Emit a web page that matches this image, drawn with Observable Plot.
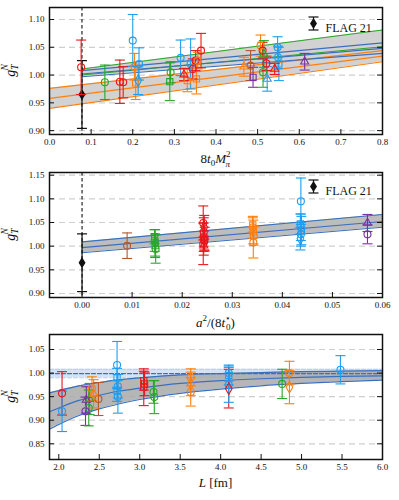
<!DOCTYPE html>
<html><head><meta charset="utf-8">
<script src="https://cdn.jsdelivr.net/npm/d3@7"></script>
<script src="https://cdn.jsdelivr.net/npm/@observablehq/plot@0.6"></script>
<style>
body{margin:0;background:#fff;}
#wrap{position:relative;width:399px;height:500px;overflow:hidden;}
.pn{position:absolute;left:0;}
.pn svg{overflow:visible;display:block;}
</style></head><body><div id="wrap"></div>
<script>
// ---------------- data ----------------
const flagLabel = "FLAG 21";
const flagValue = 0.965, flagErr = 0.061;
const physM2 = 0.078;           // 8 t0 M_pi^2 at the physical point
const betaKeys = ["3.34","3.40","3.46","3.55","3.70","3.85"];
const betaColors = ["#7b2fa6","#1f9ef0","#ff7f0e","#e8161b","#27a827","#b4582b"];
const kindKeys = ["o","s","d","t"];
const kindSymbols = ["circle","square","diamond","triangle"];

// panel 1: [8 t0 M_pi^2, g_T, err, beta, kind]
const p1Points = [
  [0.076,1.014,0.049,"3.55","o"],
  [0.133,0.987,0.031,"3.70","o"],
  [0.169,0.988,0.039,"3.55","o"],
  [0.177,0.987,0.028,"3.55","o"],
  [0.200,1.062,0.047,"3.40","o"],
  [0.204,1.015,0.024,"3.46","o"],
  [0.207,0.986,0.030,"3.46","s"],
  [0.213,0.990,0.025,"3.40","d"],
  [0.215,1.020,0.029,"3.40","o"],
  [0.289,0.988,0.034,"3.70","s"],
  [0.291,1.005,0.019,"3.70","o"],
  [0.315,1.031,0.032,"3.40","o"],
  [0.323,1.001,0.011,"3.55","t"],
  [0.331,0.990,0.020,"3.46","s"],
  [0.339,1.020,0.045,"3.40","o"],
  [0.344,1.011,0.018,"3.55","o"],
  [0.351,1.026,0.018,"3.55","o"],
  [0.353,0.993,0.027,"3.46","s"],
  [0.356,1.026,0.015,"3.46","o"],
  [0.364,1.044,0.031,"3.55","o"],
  [0.467,1.015,0.017,"3.46","t"],
  [0.483,1.017,0.027,"3.85","o"],
  [0.489,0.996,0.018,"3.34","s"],
  [0.507,1.053,0.019,"3.46","o"],
  [0.512,1.044,0.015,"3.55","o"],
  [0.513,1.005,0.027,"3.70","o"],
  [0.515,1.038,0.024,"3.70","t"],
  [0.521,1.021,0.013,"3.55","o"],
  [0.523,0.993,0.022,"3.40","t"],
  [0.541,1.011,0.010,"3.55","t"],
  [0.548,1.050,0.019,"3.40","o"],
  [0.549,1.032,0.020,"3.40","o"],
  [0.551,1.020,0.030,"3.40","s"],
  [0.613,1.024,0.015,"3.34","t"]
];
// panel 1 fit bands (straight lines, read at the ends)
const fitAX = [0.0, 0.8],   fitALo = [0.940,1.024], fitAMid = [0.958,1.034], fitAHi = [0.976,1.044]; // orange
const fitBX = [0.078, 0.8], fitBLo = [0.997,1.039], fitBMid = [1.002,1.048], fitBHi = [1.008,1.058]; // blue
const fitCX = [0.078, 0.8], fitCLo = [1.000,1.051], fitCHi = [1.011,1.081];                         // green

// panel 2: [a^2/(8 t0*), g_T, err, beta, kind]
const p2Points = [
  [0.0090,1.001,0.027,"3.85","o"],
  [0.0145,1.020,0.015,"3.70","s"],
  [0.0145,1.012,0.023,"3.70","o"],
  [0.0146,1.001,0.025,"3.70","s"],
  [0.0147,0.994,0.030,"3.70","o"],
  [0.0146,1.007,0.028,"3.70","d"],
  [0.0242,1.049,0.036,"3.55","o"],
  [0.0244,1.040,0.025,"3.55","d"],
  [0.0243,1.030,0.030,"3.55","o"],
  [0.0243,1.019,0.030,"3.55","s"],
  [0.0244,1.012,0.020,"3.55","s"],
  [0.0245,1.015,0.025,"3.55","s"],
  [0.0242,1.005,0.044,"3.55","o"],
  [0.0243,1.001,0.020,"3.55","t"],
  [0.0341,1.045,0.015,"3.46","s"],
  [0.0341,1.040,0.023,"3.46","o"],
  [0.0342,1.030,0.025,"3.46","s"],
  [0.0343,1.022,0.020,"3.46","o"],
  [0.0342,1.008,0.033,"3.46","o"],
  [0.0437,1.095,0.049,"3.40","o"],
  [0.0436,1.047,0.021,"3.40","s"],
  [0.0437,1.040,0.028,"3.40","o"],
  [0.0438,1.033,0.030,"3.40","s"],
  [0.0437,1.025,0.025,"3.40","o"],
  [0.0436,1.016,0.024,"3.40","d"],
  [0.0570,1.049,0.018,"3.34","t"],
  [0.0570,1.025,0.020,"3.34","o"]
];
// panel 2 fit band (straight line, read at the ends)
const fit2X = [0.0, 0.06], fit2Lo = [0.986,1.040], fit2Mid = [0.997,1.052], fit2Hi = [1.009,1.067];

// panel 3: [L in fm, g_T, err, beta, kind]
const p3Points = [
  [2.04,0.957,0.046,"3.55","o"],
  [2.04,0.919,0.043,"3.40","o"],
  [2.33,0.919,0.030,"3.34","o"],
  [2.34,0.943,0.028,"3.34","t"],
  [2.37,0.926,0.038,"3.70","o"],
  [2.38,0.945,0.033,"3.70","t"],
  [2.41,0.967,0.025,"3.46","o"],
  [2.43,0.956,0.030,"3.46","t"],
  [2.49,0.945,0.035,"3.85","o"],
  [2.72,1.017,0.050,"3.40","o"],
  [2.72,0.990,0.020,"3.40","s"],
  [2.73,0.972,0.025,"3.40","o"],
  [2.72,0.962,0.022,"3.40","s"],
  [2.73,0.950,0.035,"3.40","o"],
  [3.05,0.984,0.020,"3.55","s"],
  [3.06,0.977,0.025,"3.55","s"],
  [3.05,0.970,0.039,"3.55","s"],
  [3.17,0.960,0.024,"3.70","o"],
  [3.18,0.949,0.035,"3.70","o"],
  [3.63,0.991,0.018,"3.46","o"],
  [3.63,0.977,0.025,"3.46","d"],
  [3.63,0.960,0.030,"3.46","o"],
  [4.10,1.000,0.017,"3.40","o"],
  [4.10,0.995,0.020,"3.40","s"],
  [4.10,0.967,0.041,"3.55","d"],
  [4.10,0.975,0.037,"3.40","o"],
  [4.76,0.977,0.031,"3.70","o"],
  [4.85,1.000,0.025,"3.46","o"],
  [4.85,0.970,0.035,"3.46","d"],
  [5.48,1.007,0.030,"3.40","o"]
];
// panel 3 finite-volume fit band
const curveL   = [1.885,2.0,2.25,2.5,2.75,3.0,3.5,4.0,4.5,5.0,5.5,6.0];
const curveLo  = [0.881,0.891,0.910,0.924,0.935,0.944,0.957,0.966,0.973,0.978,0.982,0.985];
const curveMid = [0.918,0.926,0.942,0.953,0.962,0.968,0.978,0.984,0.988,0.991,0.993,0.994];
const curveHi  = [0.958,0.963,0.973,0.980,0.986,0.990,0.996,0.999,1.001,1.003,1.004,1.005];
// infinite-volume result
const infLo = 0.990, infMid = 0.999, infHi = 1.008;

// ticks
const x1Ticks = [0,0.1,0.2,0.3,0.4,0.5,0.6,0.7,0.8];
const y1Ticks = [0.90,0.95,1.00,1.05,1.10];
const x2Ticks = [0,0.01,0.02,0.03,0.04,0.05,0.06];
const y2Ticks = [0.90,0.95,1.00,1.05,1.10,1.15];
const x3Ticks = [2,2.5,3,3.5,4,4.5,5,5.5,6];
const y3Ticks = [0.85,0.90,0.95,1.00,1.05];

// ---------------- helpers ----------------
const colorOf = k => betaColors[betaKeys.indexOf(k)];
const hcap = {draw(ctx){ctx.moveTo(-5,0);ctx.lineTo(5,0);}};
const vbar = {draw(ctx){ctx.moveTo(0,-6.5);ctx.lineTo(0,6.5);}};
const tallDiamond = {draw(ctx){ctx.moveTo(0,-4.2);ctx.lineTo(2.6,0);ctx.lineTo(0,4.2);ctx.lineTo(-2.6,0);ctx.closePath();}};
const FONT = "Liberation Serif";
const SW = 1.1;

function pointMarks(rows){
  const m = [
    Plot.ruleX(rows,{x:d=>d[0],y1:d=>d[1]-d[2],y2:d=>d[1]+d[2],stroke:d=>colorOf(d[3]),strokeWidth:SW}),
    Plot.dot(rows,{x:d=>d[0],y:d=>d[1]+d[2],symbol:hcap,stroke:d=>colorOf(d[3]),fill:"none",strokeWidth:SW}),
    Plot.dot(rows,{x:d=>d[0],y:d=>d[1]-d[2],symbol:hcap,stroke:d=>colorOf(d[3]),fill:"none",strokeWidth:SW})
  ];
  kindKeys.forEach((k,i)=>{
    m.push(Plot.dot(rows.filter(d=>d[4]===k),{x:d=>d[0],y:d=>d[1],symbol:kindSymbols[i],r:k==="t"?3.0:3.5,
      stroke:d=>colorOf(d[3]),fill:"none",strokeWidth:SW}));
  });
  return m;
}
function bandRows(xs, lo, mid, hi){
  return xs.map((x,i)=>({x, lo:lo[i], mid: mid? mid[i]:null, hi:hi[i]}));
}
function flagMarks(x){
  return [
    Plot.ruleX([x],{stroke:"#111",strokeWidth:1.1,strokeDasharray:"3.5,2.5"}),
    Plot.ruleX([x],{y1:flagValue-flagErr,y2:flagValue+flagErr,stroke:"#111",strokeWidth:1.2}),
    Plot.dot([x],{x:d=>d,y:[flagValue+flagErr],symbol:hcap,stroke:"#111",strokeWidth:1.2}),
    Plot.dot([x],{x:d=>d,y:[flagValue-flagErr],symbol:hcap,stroke:"#111",strokeWidth:1.2}),
    Plot.dot([x],{x:d=>d,y:[flagValue],symbol:tallDiamond,fill:"#111",stroke:"#111"})
  ];
}
function legendMarks(dy){
  return [
    Plot.dot([0],{frameAnchor:"top-right",dx:-69,dy:dy,symbol:vbar,stroke:"#111",strokeWidth:1.2}),
    Plot.dot([0],{frameAnchor:"top-right",dx:-69,dy:dy-6.5,symbol:hcap,stroke:"#111",strokeWidth:1.2}),
    Plot.dot([0],{frameAnchor:"top-right",dx:-69,dy:dy+6.5,symbol:hcap,stroke:"#111",strokeWidth:1.2}),
    Plot.dot([0],{frameAnchor:"top-right",dx:-69,dy:dy,symbol:tallDiamond,fill:"#111",stroke:"#111"}),
    Plot.text([flagLabel],{frameAnchor:"top-right",dx:-57,dy:dy,text:d=>d,textAnchor:"start",fontSize:12,fill:"#111"})
  ];
}
function panel(o){
  const ml=49, mr=17, W=399, pw=W-ml-mr, ph=o.height-o.mt-o.mb;
  const yf = d=>d.toFixed(2);
  const marks = [
    Plot.ruleY(o.yTicks,{y:d=>d,stroke:"#cfcfcf",strokeWidth:1.2,strokeDasharray:"6,4"}),
    ...o.marks,
    Plot.tickY(o.yTicks,{y:d=>d,insetRight:pw-5,stroke:"#111",strokeWidth:1}),
    Plot.tickY(o.yTicks,{y:d=>d,insetLeft:pw-5,stroke:"#111",strokeWidth:1}),
    Plot.tickX(o.xTicks,{x:d=>d,insetTop:ph-5,stroke:"#111",strokeWidth:1}),
    Plot.axisY(o.yTicks,{tickSize:0,tickPadding:5,tickFormat:yf,label:null,fontSize:9}),
    Plot.axisX(o.xTicks,{tickSize:0,tickPadding:4,tickFormat:o.xFmt,label:null,fontSize:9}),
    Plot.frame({stroke:"#111",strokeWidth:1.5})
  ];
  const svg = Plot.plot({
    width:W, height:o.height, marginLeft:ml, marginRight:mr, marginTop:o.mt, marginBottom:o.mb,
    x:{domain:o.xDomain}, y:{domain:o.yDomain},
    style:{fontFamily:FONT, fontSize:"9px", color:"#111", background:"transparent"},
    marks
  });
  const s = d3.select(svg);
  s.append("text").attr("x",ml+pw/2).attr("y",o.titleY).attr("text-anchor","middle")
    .attr("font-family",FONT).attr("font-size",13).attr("fill","#111").html(o.title);
  s.append("text").attr("transform",`translate(15,${o.mt+ph/2}) rotate(-90)`).attr("text-anchor","middle")
    .attr("font-family",FONT).attr("font-size",14).attr("fill","#111")
    .html('<tspan font-style="italic">g</tspan><tspan font-style="italic" font-size="9.5" dy="3">T</tspan><tspan font-style="italic" font-size="9.5" dx="-6" dy="-10">N</tspan>');
  const div = document.createElement("div");
  div.className="pn"; div.style.top=o.top+"px";
  div.appendChild(svg);
  document.getElementById("wrap").appendChild(div);
}

// ---------------- panel 1 ----------------
const bA = bandRows(fitAX,fitALo,fitAMid,fitAHi);
const bB = bandRows(fitBX,fitBLo,fitBMid,fitBHi);
const bC = bandRows(fitCX,fitCLo,null,fitCHi);
const grey1 = "#d2d2d2";
const cOr = "#ff7f0e", cBl = "#3a6fbf", cGr = "#27a827";
panel({
  top:0, height:166, mt:7, mb:32,
  xDomain:[0,0.8], yDomain:[0.893,1.1216],
  xTicks:x1Ticks, yTicks:y1Ticks, xFmt:d=>d.toFixed(1),
  titleY:163,
  title:'<tspan>8</tspan><tspan font-style="italic">t</tspan><tspan font-size="9" dy="3">0</tspan><tspan font-style="italic" dy="-3">M</tspan><tspan font-size="9" dy="-6">2</tspan><tspan font-size="9" font-style="italic" dx="-5" dy="10">π</tspan>',
  marks:[
    Plot.areaY(bA,{x:"x",y1:"lo",y2:"hi",fill:grey1}),
    Plot.areaY(bB,{x:"x",y1:"lo",y2:"hi",fill:grey1}),
    Plot.areaY(bC,{x:"x",y1:"lo",y2:"hi",fill:grey1}),
    ...["lo","mid","hi"].map(k=>Plot.line(bA,{x:"x",y:k,stroke:cOr,strokeWidth:1.1})),
    ...["lo","hi"].map(k=>Plot.line(bC,{x:"x",y:k,stroke:cGr,strokeWidth:1.1})),
    ...["lo","mid","hi"].map(k=>Plot.line(bB,{x:"x",y:k,stroke:cBl,strokeWidth:1.1})),
    ...flagMarks(physM2),
    ...pointMarks(p1Points),
    ...legendMarks(16)
  ]
});

// ---------------- panel 2 ----------------
const b2 = bandRows(fit2X,fit2Lo,fit2Mid,fit2Hi);
panel({
  top:166, height:164, mt:6, mb:33,
  xDomain:[-0.0065,0.06], yDomain:[0.8915,1.1557],
  xTicks:x2Ticks, yTicks:y2Ticks, xFmt:d=>d.toFixed(2),
  titleY:161,
  title:'<tspan font-style="italic">a</tspan><tspan font-size="9" dy="-6">2</tspan><tspan dy="6">/(8</tspan><tspan font-style="italic">t</tspan><tspan font-size="9" dy="-6">⋆</tspan><tspan font-size="9" dx="-5" dy="9">0</tspan><tspan dy="-3">)</tspan>',
  marks:[
    Plot.areaY(b2,{x:"x",y1:"lo",y2:"hi",fill:"#bdbdbd"}),
    ...["lo","mid","hi"].map(k=>Plot.line(b2,{x:"x",y:k,stroke:cBl,strokeWidth:1.1})),
    ...flagMarks(0),
    ...pointMarks(p2Points),
    ...legendMarks(14)
  ]
});

// ---------------- panel 3 ----------------
const b3 = bandRows(curveL,curveLo,curveMid,curveHi);
const x3Domain = [1.885,6.0];
const inf = x3Domain.map(x=>({x, lo:infLo, mid:infMid, hi:infHi}));
panel({
  top:330, height:170, mt:4, mb:41,
  xDomain:x3Domain, yDomain:[0.8167,1.0818],
  xTicks:x3Ticks, yTicks:y3Ticks, xFmt:d=>d.toFixed(1),
  titleY:157,
  title:'<tspan font-style="italic">L</tspan> [fm]',
  marks:[
    Plot.areaY(inf,{x:"x",y1:"lo",y2:"hi",fill:"#d3e3f4"}),
    Plot.line(inf,{x:"x",y:"lo",stroke:"#b3cdea",strokeWidth:1,strokeDasharray:"4,2"}),
    Plot.line(inf,{x:"x",y:"hi",stroke:"#b3cdea",strokeWidth:1,strokeDasharray:"4,2"}),
    Plot.areaY(b3,{x:"x",y1:"lo",y2:"hi",fill:"#a9a9a9",fillOpacity:0.85,curve:"monotone-x"}),
    ...["lo","mid","hi"].map(k=>Plot.line(b3,{x:"x",y:k,stroke:cBl,strokeWidth:1.2,curve:"monotone-x"})),
    Plot.line(inf,{x:"x",y:"mid",stroke:cBl,strokeWidth:1.2,strokeDasharray:"4,2"}),
    ...pointMarks(p3Points)
  ]
});
</script></body></html>
